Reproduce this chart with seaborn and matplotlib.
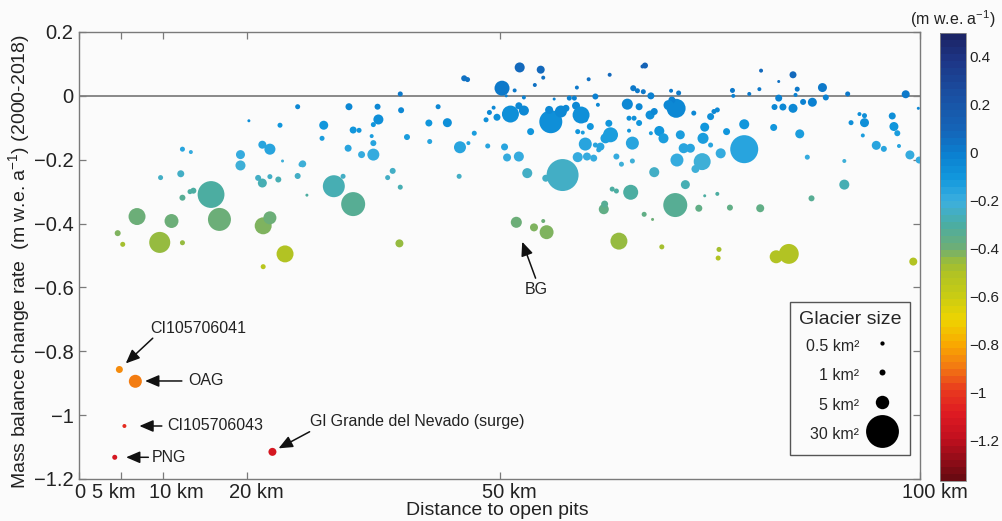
import numpy as np
import pandas as pd
import matplotlib
matplotlib.use("Agg")
import matplotlib.pyplot as plt
import seaborn as sns
from matplotlib.colors import LinearSegmentedColormap, Normalize
from matplotlib.cm import ScalarMappable
from matplotlib.lines import Line2D
from matplotlib.transforms import ScaledTranslation

# ---------------- data ----------------
distance_km = [
    4.6, 5.2, 6.9, 9.6, 11.0, 12.3, 9.7, 12.1, 12.3, 13.2, 13.6, 15.7, 16.7, 12.3, 13.3,
    19.2, 19.2, 20.2, 21.8, 22.7, 23.9, 24.2, 21.3, 21.8, 22.7, 23.7, 21.9, 22.7, 21.9, 24.5,
    26.0, 26.4, 26.6, 26.0, 27.1,
    29.1, 28.9, 32.1, 32.0, 30.3, 31.4, 32.6, 32.6, 33.3, 33.6, 34.8, 35.0, 35.0, 35.0, 35.6,
    35.5, 37.3, 36.7, 38.2, 38.1, 38.2, 38.3, 39.0, 41.6, 41.7, 42.7, 43.8, 45.3, 46.3, 47.0,
    45.2, 48.6, 45.8, 46.2, 48.8, 49.3, 48.4, 49.7,
    50.3, 52.4, 54.9, 55.2, 51.8, 54.2, 67.3, 67.0, 60.6, 63.1, 59.2, 65.9, 66.4, 67.1, 68.0,
    70.4, 71.3, 61.4, 65.2, 61.7, 56.5, 58.3, 58.9, 52.9, 50.8, 51.3, 52.9, 52.3, 56.1, 57.3,
    55.9, 59.1, 59.7, 60.8, 53.7, 50.6, 50.9, 52.3, 53.3, 55.5, 57.5, 59.3, 60.4, 60.2, 59.3,
    59.9, 63.0, 63.2, 62.6, 62.0, 63.9, 65.8, 65.4, 66.6, 64.5, 65.8, 67.9, 68.4, 69.0, 69.5,
    71.0, 70.5, 71.5, 71.9, 72.7, 71.1, 68.4, 73.1, 74.2, 74.4, 75.1, 75.5, 75.9, 74.1, 73.3,
    76.3, 77.0, 79.1, 79.1, 77.7, 77.8, 79.7, 70.1, 66.6, 65.4, 66.0, 68.0, 75.1, 61.8, 61.4,
    72.1, 65.6, 63.4, 63.9, 70.9, 73.7, 75.9, 74.4, 77.4, 81.0, 87.1, 62.4, 62.5, 67.2, 68.2,
    52.0, 54.1, 55.2, 55.6, 64.2, 69.3, 76.1, 76.0, 82.9, 84.4, 99.2, 91.0, 91.0, 86.6,
    57.9, 60.2, 61.2,
    80.9, 81.1, 83.2, 84.9, 83.2, 85.4, 85.2, 86.1, 87.2, 88.4, 88.8, 82.7, 83.7, 84.9, 82.6,
    85.7, 91.4, 98.3, 99.8, 91.8, 92.8, 93.4, 93.4, 93.2, 96.7, 96.9, 97.3, 94.8, 95.7, 97.5,
    98.8, 99.9,
    4.8, 6.7, 5.4, 4.25, 23.0,
]
mass_balance = [
    -0.430, -0.465, -0.378, -0.459, -0.392, -0.460, -0.256, -0.244, -0.319, -0.300, -0.297, -0.309, -0.387, -0.167, -0.176,
    -0.184, -0.218, -0.078, -0.153, -0.167, -0.092, -0.204, -0.257, -0.273, -0.253, -0.262, -0.407, -0.382, -0.535, -0.495,
    -0.034, -0.215, -0.213, -0.251, -0.311,
    -0.092, -0.133, -0.034, -0.164, -0.283, -0.252, -0.339, -0.107, -0.108, -0.184, -0.126, -0.148, -0.184, -0.090, -0.074,
    -0.034, -0.235, -0.256, -0.286, -0.462, 0.006, -0.045, -0.129, -0.085, -0.143, -0.034, -0.084, -0.161, -0.148, -0.117,
    -0.252, -0.157, 0.055, 0.051, -0.052, -0.037, -0.075, -0.067,
    0.024, 0.089, 0.082, 0.057, 0.017, 0.034, 0.095, 0.092, 0.052, 0.066, 0.026, 0.024, 0.016, 0.013, 0.000,
    0.016, 0.009, -0.002, -0.026, -0.028, -0.010, -0.007, -0.007, -0.005, 0.000, -0.057, -0.046, -0.031, -0.081, -0.049,
    -0.044, -0.031, -0.060, -0.096, -0.112, -0.160, -0.193, -0.190, -0.242, -0.258, -0.248, -0.192, -0.190, -0.151, -0.112,
    -0.115, -0.086, -0.122, -0.133, -0.159, -0.190, -0.148, -0.109, -0.085, -0.214, -0.204, -0.060, -0.049, -0.110, -0.133,
    -0.039, -0.013, -0.122, -0.164, -0.164, -0.201, -0.239, -0.054, -0.133, -0.098, -0.065, -0.049, -0.044, -0.206, -0.229,
    -0.180, -0.112, -0.089, -0.167, 0.017, 0.000, 0.006, -0.029, -0.034, -0.070, -0.070, -0.117, -0.154, -0.169, -0.154,
    -0.278, -0.302, -0.292, -0.298, -0.342, -0.352, -0.307, -0.313, -0.350, -0.352, -0.321, -0.355, -0.339, -0.371, -0.387,
    -0.396, -0.412, -0.392, -0.427, -0.455, -0.473, -0.481, -0.508, -0.504, -0.495, -0.519, -0.278, -0.204, -0.192,
    -0.039, -0.075, -0.195,
    0.021, 0.079, 0.045, 0.066, -0.007, 0.021, 0.003, -0.019, -0.020, 0.026, -0.005, -0.035, -0.035, -0.039, -0.099,
    -0.119, 0.006, 0.005, -0.039, -0.084, -0.057, -0.062, -0.084, -0.124, -0.063, -0.096, -0.117, -0.155, -0.166, -0.157,
    -0.185, -0.201,
    -0.857, -0.894, -1.034, -1.132, -1.115,
]
area_km2 = [
    1.0, 0.7, 8.0, 12.3, 5.4, 0.7, 0.7, 1.36, 1.0, 0.7, 1.0, 20.0, 14.7, 0.7, 0.44,
    2.25, 2.8, 0.25, 1.78, 3.4, 0.7, 0.25, 1.0, 2.25, 0.7, 1.0, 8.0, 4.7, 0.7, 8.0,
    0.7, 0.7, 1.36, 1.0, 0.25,
    2.25, 0.7, 1.36, 1.36, 13.4, 0.7, 16.0, 1.36, 0.7, 1.36, 0.44, 1.0, 4.0, 0.7, 2.8,
    1.0, 1.0, 0.7, 0.7, 1.78, 0.7, 1.0, 1.0, 1.36, 0.7, 0.7, 2.25, 4.0, 0.44, 0.7,
    0.7, 0.7, 1.0, 0.7, 0.7, 0.44, 0.7, 1.36,
    6.25, 2.8, 1.78, 0.44, 0.44, 0.44, 1.0, 0.44, 0.44, 0.44, 0.44, 1.0, 0.7, 0.7, 1.36,
    0.44, 0.7, 1.0, 3.4, 0.44, 0.25, 0.7, 0.7, 0.44, 0.25, 8.0, 2.8, 1.36, 14.7, 4.0,
    1.78, 1.78, 8.0, 1.36, 1.36, 1.36, 1.78, 2.8, 2.8, 1.36, 28.4, 2.8, 1.78, 4.7, 0.7,
    0.44, 1.36, 6.25, 2.8, 1.78, 1.0, 4.7, 0.44, 1.0, 0.7, 0.7, 2.25, 1.36, 2.8, 2.8,
    10.0, 1.36, 2.25, 2.8, 2.25, 4.7, 2.8, 0.7, 3.4, 2.25, 1.36, 0.7, 0.7, 8.0, 1.78,
    2.8, 1.36, 2.8, 21.8, 0.7, 0.44, 0.44, 2.8, 1.36, 0.7, 0.7, 0.44, 0.7, 0.7, 0.7,
    2.25, 6.25, 0.7, 0.7, 16.0, 1.36, 0.44, 0.25, 1.0, 1.78, 1.0, 2.8, 1.36, 0.7, 0.25,
    3.4, 1.78, 0.44, 5.4, 8.0, 0.7, 0.7, 0.7, 4.7, 11.0, 1.78, 2.8, 0.44, 0.7,
    1.36, 0.7, 1.36,
    0.44, 0.44, 0.25, 1.36, 1.36, 0.7, 0.44, 1.0, 2.25, 2.25, 1.0, 1.0, 1.36, 2.25, 1.36,
    2.25, 0.7, 1.78, 0.25, 0.7, 0.44, 0.7, 2.25, 0.44, 1.36, 2.25, 1.0, 2.25, 1.0, 0.44,
    2.25, 1.36,
    1.36, 4.7, 0.44, 0.7, 1.78,
]

x_ticks = [0, 5, 10, 20, 50, 100]
x_tick_labels = ["0", "5 km", "10 km", "20 km", "50 km", "100 km"]
y_ticks = [0.2, 0.0, -0.2, -0.4, -0.6, -0.8, -1.0, -1.2]
y_tick_labels = ["0.2", "0", "\u22120.2", "\u22120.4", "\u22120.6", "\u22120.8", "\u22121", "\u22121.2"]
cbar_ticks = [0.4, 0.2, 0.0, -0.2, -0.4, -0.6, -0.8, -1.0, -1.2]
cbar_tick_labels = ["0.4", "0.2", "0", "\u22120.2", "\u22120.4", "\u22120.6", "\u22120.8", "\u22121", "\u22121.2"]
legend_areas = [0.5, 1, 5, 30]
legend_labels = ["0.5 km\u00b2", "1 km\u00b2", "5 km\u00b2", "30 km\u00b2"]

# annotations: label, text position, arrow tail, arrow head
annotations = [
    ("CI105706041", (8.45, -0.730), (8.77, -0.759), (5.56, -0.838), "left"),
    ("OAG", (12.98, -0.893), (12.23, -0.893), (7.86, -0.893), "left"),
    ("CI105706043", (10.51, -1.034), (9.85, -1.034), (7.18, -1.034), "left"),
    ("PNG", (8.65, -1.132), (8.25, -1.132), (5.60, -1.132), "left"),
    ("Gl Grande del Nevado (surge)", (27.5, -1.019), (27.42, -1.052), (23.73, -1.104), "left"),
    ("BG", (54.4, -0.605), (54.29, -0.571), (52.70, -0.457), "center"),
]

# ---------------- style ----------------
sns.set_theme(style="ticks")
plt.rcParams["font.family"] = ["Liberation Sans", "DejaVu Sans"]
plt.rcParams["mathtext.fontset"] = "custom"
plt.rcParams["mathtext.rm"] = "Liberation Sans"
plt.rcParams["mathtext.it"] = "Liberation Sans"
plt.rcParams["mathtext.bf"] = "Liberation Sans"
plt.rcParams["mathtext.default"] = "rm"

VMIN, VMAX = -1.37, 0.5
anchors = [
    (0.50, "#1b2466"), (0.40, "#1d3585"), (0.25, "#1a50a2"), (0.10, "#1465b8"),
    (0.00, "#0b80d0"), (-0.10, "#1197dd"), (-0.20, "#3cafde"), (-0.30, "#4cada2"),
    (-0.40, "#6fae74"), (-0.45, "#96bb40"), (-0.50, "#b0c224"), (-0.60, "#c8cc14"),
    (-0.70, "#eed400"), (-0.80, "#f9ab00"), (-0.90, "#f37a12"), (-1.00, "#e8391e"),
    (-1.10, "#de1a22"), (-1.20, "#c3101f"), (-1.37, "#6b0a12"),
]
cmap = LinearSegmentedColormap.from_list(
    "mb", [((v - VMIN) / (VMAX - VMIN), c) for v, c in sorted(anchors)], N=64)
norm = Normalize(VMIN, VMAX)

W, H = 1002, 521
fig = plt.figure(figsize=(W / 100, H / 100), dpi=100)
bg = "#fbfbfb"
fig.patch.set_facecolor(bg)

L, R, T, B = 79, 920, 32, 479
ax = fig.add_axes([L / W, 1 - B / H, (R - L) / W, (B - T) / H])
ax.set_facecolor(bg)

df = pd.DataFrame({"distance": distance_km, "mb": mass_balance, "area": area_km2})
K = 18.66  # points^2 per km^2
ax.axhline(0, color="#808080", lw=1.3, zorder=1)
sns.scatterplot(data=df, x="distance", y="mb", hue="mb", palette=cmap, hue_norm=norm,
                size="area", sizes=(0, K * 30), size_norm=(0, 30),
                linewidth=0, alpha=1, legend=False, ax=ax, zorder=3)

ax.set_xlim(0, 100)
ax.set_ylim(-1.2, 0.2)
ax.set_xticks(x_ticks)
ax.set_xticklabels(x_tick_labels, fontsize=14.5, color="#222222")
ax.set_yticks(y_ticks)
ax.set_yticklabels(y_tick_labels, fontsize=14.5, color="#222222")
spine_c = "#7a7a7a"
for s in ax.spines.values():
    s.set_color(spine_c)
    s.set_linewidth(1.0)
ax.tick_params(direction="in", length=5, width=0.9, color=spine_c, top=True, right=True, pad=3)
ax.tick_params(axis="y", pad=4)

x_offsets_px = [1, -7, 13, 9, 9.5, 15]
for lab, dx in zip(ax.get_xticklabels(), x_offsets_px):
    lab.set_transform(lab.get_transform() + ScaledTranslation(dx / 100, 0, fig.dpi_scale_trans))

ax.set_xlabel("Distance to open pits", fontsize=14, color="#222222")
ax.xaxis.set_label_coords((497 - L) / (R - L), -(502 - B) / (B - T))
ax.set_ylabel("Mass balance change rate  (m w.e. a$^{-1}$) (2000-2018)", fontsize=14, color="#222222")
ax.yaxis.set_label_coords(-(L - 32) / (R - L), (B - 262) / (B - T))

# annotations
for text, tpos, tail, head, ha in annotations:
    ax.annotate("", xy=head, xytext=tail,
                arrowprops=dict(arrowstyle="-|>,head_length=0.7,head_width=0.3",
                                color="#111111", lw=1.1, shrinkA=0, shrinkB=0), zorder=4)
    ax.text(tpos[0], tpos[1], text, ha=ha, va="center", fontsize=11.5, color="#222222", zorder=4)

# size legend
handles = [Line2D([], [], marker="o", ls="", color="black", markeredgewidth=0,
                  markersize=np.sqrt(K * a)) for a in legend_areas]
leg = ax.legend(handles, legend_labels, title="Glacier size", loc="upper left",
                bbox_to_anchor=((790 - L) / (R - L), (B - 302) / (B - T)), borderaxespad=0,
                markerfirst=False, frameon=True, fancybox=False, fontsize=11.5,
                title_fontsize=14, handlelength=1.6, handleheight=1.85, labelspacing=0.4,
                borderpad=0.55, handletextpad=0.6)
leg.get_frame().set_edgecolor("#555555")
leg.get_frame().set_linewidth(1.0)
leg.get_frame().set_facecolor(bg)
leg.get_frame().set_alpha(1)

# colorbar
cT, cB = 33, 481
cax = fig.add_axes([940 / W, 1 - cB / H, 26 / W, (cB - cT) / H])
cb = fig.colorbar(ScalarMappable(norm=norm, cmap=cmap), cax=cax)
cb.set_ticks(cbar_ticks)
cb.set_ticklabels(cbar_tick_labels)
cax.tick_params(length=0, labelsize=11, pad=2.5, colors="#222222")
cb.outline.set_edgecolor("#888888")
cb.outline.set_linewidth(0.6)
cax.set_title("(m w.e. a$^{-1}$)", fontsize=11.5, color="#222222", pad=6)

fig.savefig("out.png", dpi=100, facecolor=bg)
